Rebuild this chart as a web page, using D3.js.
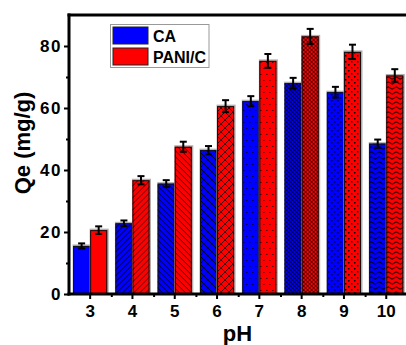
<!DOCTYPE html>
<html>
<head>
<meta charset="utf-8">
<script src="https://cdn.jsdelivr.net/npm/d3@7"></script>
<style>
  html, body { margin: 0; padding: 0; background: #fff; }
  svg { display: block; font-family: 'Liberation Sans', Arial, sans-serif; font-weight: bold; }
</style>
</head>
<body>
<div id="chart"></div>
<script>
// values
const categories = ['3', '4', '5', '6', '7', '8', '9', '10'];
const seriesNames = ['CA', 'PANI/C'];
const caValues = [15.5, 22.8, 35.6, 46.4, 62.2, 68.0, 65.1, 48.5];
const paniValues = [20.6, 36.7, 47.5, 60.6, 75.2, 83.1, 78.1, 70.5];
const caErrors = [0.5, 0.6, 0.8, 1.0, 1.3, 1.4, 1.4, 1.0];
const paniErrors = [0.9, 1.0, 1.3, 1.6, 1.9, 2.1, 2.0, 1.7];
const yTicks = [0, 20, 40, 60, 80];
const yMinorTicks = [10, 30, 50, 70];

const colors = { 'CA': '#0000ff', 'PANI/C': '#ff0000' };
// one hatch per pH group
const patternIds = [null, 'p-fwd', 'p-back', 'p-cross', 'p-dots-sparse', 'p-cross-fine', 'p-dots', 'p-wave'];

const width = 406, height = 345;
const margin = { top: 15, left: 69, bottom: 51 };
const plotRight = 69 + 8 * 42.3;

const svg = d3.select('#chart').append('svg')
  .attr('width', width)
  .attr('height', height);

// patterns
const defs = svg.append('defs');
function pattern(id, w, h) {
  return defs.append('pattern').attr('id', id)
    .attr('patternUnits', 'userSpaceOnUse')
    .attr('width', w).attr('height', h);
}
pattern('p-fwd', 6, 6).append('path')
  .attr('d', 'M0,6 L6,0 M-1,1 L1,-1 M5,7 L7,5')
  .attr('stroke', '#000').attr('stroke-width', 0.8);
pattern('p-back', 6, 6).append('path')
  .attr('d', 'M0,0 L6,6 M-1,5 L1,7 M5,-1 L7,1')
  .attr('stroke', '#000').attr('stroke-width', 0.8);
pattern('p-cross', 8, 8).append('path')
  .attr('d', 'M0,8 L8,0 M-1,1 L1,-1 M7,9 L9,7 M0,0 L8,8 M-1,7 L1,9 M7,-1 L9,1')
  .attr('stroke', '#000').attr('stroke-width', 0.8);
const ds = pattern('p-dots-sparse', 6, 12);
ds.append('rect').attr('x', 1).attr('y', 2).attr('width', 1).attr('height', 1).attr('fill', '#000');
ds.append('rect').attr('x', 4).attr('y', 8).attr('width', 1).attr('height', 1).attr('fill', '#000');
pattern('p-cross-fine', 4, 4).append('path')
  .attr('d', 'M0,4 L4,0 M-1,1 L1,-1 M3,5 L5,3 M0,0 L4,4 M-1,3 L1,5 M3,-1 L5,1')
  .attr('stroke', '#000').attr('stroke-width', 0.7);
const dd = pattern('p-dots', 6, 6);
dd.append('rect').attr('x', 1).attr('y', 1).attr('width', 1.5).attr('height', 1.5).attr('fill', '#000');
dd.append('rect').attr('x', 4).attr('y', 4).attr('width', 1.5).attr('height', 1.5).attr('fill', '#000');
pattern('p-wave', 8, 5).append('path')
  .attr('d', 'M0,3 Q2,0.5 4,3 T8,3')
  .attr('fill', 'none').attr('stroke', '#000').attr('stroke-width', 1);

// scales
const x = d3.scaleBand()
  .domain(categories)
  .range([margin.left, plotRight])
  .padding(0);

const xSub = d3.scaleBand()
  .domain(seriesNames)
  .range([0, x.bandwidth()])
  .paddingInner(0)
  .paddingOuter(0.24);

const y = d3.scaleLinear()
  .domain([0, 90])
  .range([height - margin.bottom, margin.top]);

// rows for bars
const rows = [];
categories.forEach((c, i) => {
  rows.push({ cat: c, i: i, series: 'CA', value: caValues[i], err: caErrors[i] });
  rows.push({ cat: c, i: i, series: 'PANI/C', value: paniValues[i], err: paniErrors[i] });
});

const bars = svg.append('g').selectAll('g')
  .data(rows)
  .enter()
  .append('g')
  .attr('transform', d => `translate(${x(d.cat) + xSub(d.series)},0)`);

// light gray shadow behind each bar
bars.append('rect')
  .attr('x', -0.5)
  .attr('y', d => y(d.value) - 1.5)
  .attr('width', xSub.bandwidth() + 2)
  .attr('height', d => y(0) - y(d.value) + 1.5)
  .attr('fill', '#b0b0b0');

bars.append('rect')
  .attr('x', 0)
  .attr('y', d => y(d.value))
  .attr('width', xSub.bandwidth())
  .attr('height', d => y(0) - y(d.value))
  .attr('fill', d => colors[d.series]);

bars.filter(d => patternIds[d.i])
  .append('rect')
  .attr('x', 0)
  .attr('y', d => y(d.value))
  .attr('width', xSub.bandwidth())
  .attr('height', d => y(0) - y(d.value))
  .attr('fill', d => `url(#${patternIds[d.i]})`);

bars.append('rect')
  .attr('x', 0.5)
  .attr('y', d => y(d.value) + 0.5)
  .attr('width', xSub.bandwidth() - 1)
  .attr('height', d => y(0) - y(d.value) - 0.5)
  .attr('fill', 'none')
  .attr('stroke', '#111')
  .attr('stroke-width', 1);

// error bars
const cx = xSub.bandwidth() / 2;
bars.append('line')
  .attr('x1', cx).attr('x2', cx)
  .attr('y1', d => y(d.value + d.err) - 1)
  .attr('y2', d => y(d.value - d.err) + 1)
  .attr('stroke', '#000').attr('stroke-width', 2);
bars.append('line')
  .attr('x1', cx - 3.5).attr('x2', cx + 3.5)
  .attr('y1', d => y(d.value + d.err) - 1)
  .attr('y2', d => y(d.value + d.err) - 1)
  .attr('stroke', '#000').attr('stroke-width', 2);
bars.append('line')
  .attr('x1', cx - 3.5).attr('x2', cx + 3.5)
  .attr('y1', d => y(d.value - d.err) + 1)
  .attr('y2', d => y(d.value - d.err) + 1)
  .attr('stroke', '#000').attr('stroke-width', 2);

// axes
const yAxis = svg.append('g')
  .attr('transform', `translate(${margin.left},0)`)
  .call(d3.axisLeft(y).tickValues(yTicks).tickSize(5).tickPadding(2));
svg.append('g')
  .attr('transform', `translate(${margin.left},0)`)
  .call(d3.axisLeft(y).tickValues(yMinorTicks).tickSize(3).tickFormat(''))
  .call(g => g.select('.domain').remove());

const xAxis = svg.append('g')
  .attr('transform', `translate(0,${y(0)})`)
  .call(d3.axisBottom(x).tickSize(5).tickPadding(6));
const bounds = categories.slice(1).map(c => x(c));
svg.append('g')
  .attr('transform', `translate(0,${y(0)})`)
  .call(d3.axisBottom(d3.scaleLinear().domain([0, width]).range([0, width]))
    .tickValues(bounds).tickSize(3).tickFormat(''))
  .call(g => g.select('.domain').remove());

svg.selectAll('.tick line').attr('stroke', '#000').attr('stroke-width', 2);
svg.selectAll('.domain').attr('stroke', '#000').attr('stroke-width', 3);
yAxis.select('.domain').attr('d', `M0,${y(0) + 1.5}V${margin.top - 1.5}`);
xAxis.select('.domain').attr('d', `M${margin.left - 1.5},0H${width}`);
svg.selectAll('.tick text')
  .attr('fill', '#000')
  .style('font-size', '17px')
  .style('font-weight', 'bold')
  .style('font-family', "'Liberation Sans', Arial, sans-serif");
yAxis.selectAll('.tick text').style('letter-spacing', '1.5px');

// top frame line
svg.append('line')
  .attr('x1', margin.left - 1.5).attr('x2', width)
  .attr('y1', margin.top).attr('y2', margin.top)
  .attr('stroke', '#000').attr('stroke-width', 3);

// axis titles
svg.append('text')
  .attr('x', (margin.left + width) / 2 + 0)
  .attr('y', 341)
  .attr('text-anchor', 'middle')
  .style('font-size', '22px')
  .text('pH');

svg.append('text')
  .attr('transform', 'translate(30,143) rotate(-90)')
  .attr('text-anchor', 'middle')
  .style('font-size', '22px')
  .text('Qe (mg/g)');

// legend
const legend = svg.append('g').attr('transform', 'translate(110.5,24.5)');
legend.append('rect')
  .attr('width', 98.5).attr('height', 43)
  .attr('fill', '#fff').attr('stroke', '#999').attr('stroke-width', 1);
const items = legend.selectAll('.item')
  .data(seriesNames)
  .enter()
  .append('g')
  .attr('class', 'item')
  .attr('transform', (d, i) => `translate(2.5,${2.5 + i * 21})`);
items.append('rect')
  .attr('width', 35).attr('height', 17)
  .attr('fill', d => colors[d])
  .attr('stroke', '#222').attr('stroke-width', 1);
items.append('text')
  .attr('x', 40)
  .attr('y', 14.5)
  .style('font-size', '16px')
  .text(d => d);
</script>
</body>
</html>
